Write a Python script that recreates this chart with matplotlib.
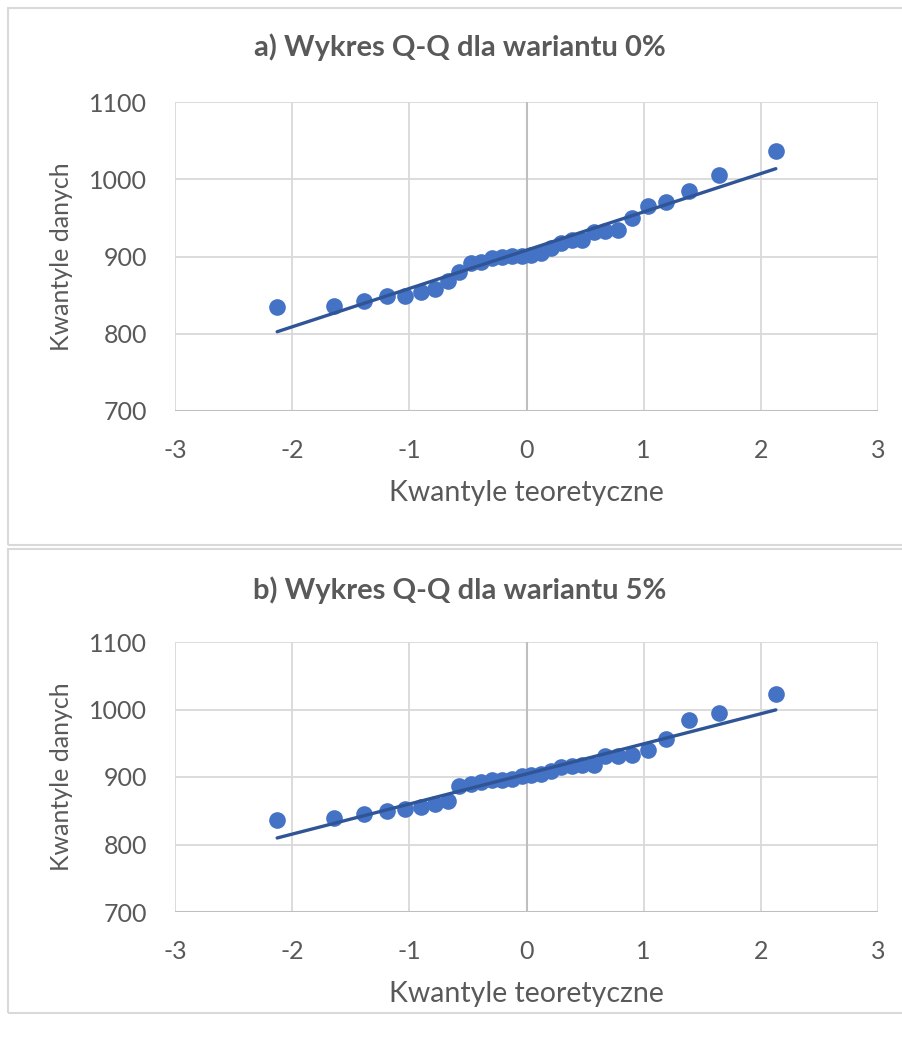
import matplotlib.pyplot as plt
import numpy as np
from matplotlib.patches import Rectangle

# theoretical normal quantiles, n = 30, p = (i - 0.5) / n
teoretyczne = [-2.128, -1.645, -1.383, -1.192, -1.036, -0.903, -0.783, -0.674,
               -0.573, -0.477, -0.385, -0.297, -0.210, -0.126, -0.042,
               0.042, 0.126, 0.210, 0.297, 0.385, 0.477, 0.573, 0.674,
               0.783, 0.903, 1.036, 1.192, 1.383, 1.645, 2.128]

# sorted data quantiles
wariant_0 = [834.5, 836, 842, 849, 849.5, 853.5, 858, 868.5, 880, 891,
             892.5, 898, 900, 900.5, 901, 902, 905, 911, 917, 921,
             922, 932, 933.5, 934.5, 950, 965, 970.5, 984.5, 1006, 1036.5]
wariant_5 = [836, 840, 845.5, 850, 853, 855, 859.5, 864.5, 886.5, 889,
             892.5, 895, 896, 896.5, 901, 903.5, 904.5, 909, 915, 916.5,
             917.5, 918, 931, 931.5, 932, 940, 956, 984, 995.5, 1022.5]

tytuly = ['a) Wykres Q-Q dla wariantu 0%', 'b) Wykres Q-Q dla wariantu 5%']
x_ticks = [-3, -2, -1, 0, 1, 2, 3]
y_ticks = [700, 800, 900, 1000, 1100]

plt.rcParams['font.family'] = ['Lato', 'DejaVu Sans']
plt.rcParams['axes.unicode_minus'] = False

W, H = 903, 1041
fig = plt.figure(figsize=(W / 100, H / 100), dpi=100)

# chart frames (Excel style), in pixel coordinates
for top, bottom in [(8, 545), (549, 1013)]:
    fig.patches.append(Rectangle((8 / W, 1 - bottom / H), 1.2, (bottom - top) / H,
                                 transform=fig.transFigure, fill=False,
                                 edgecolor='#d9d9d9', linewidth=1.5))

text_col = '#595959'
for k, (dane, tytul) in enumerate(zip([wariant_0, wariant_5], tytuly)):
    top = 102 if k == 0 else 642
    bottom = 411 if k == 0 else 912
    ax = fig.add_axes([175 / W, 1 - bottom / H, (878 - 175) / W, (bottom - top) / H])

    ax.scatter(teoretyczne, dane, s=12 ** 2, color='#4472c4', zorder=3, linewidths=0)
    a, b = np.polyfit(teoretyczne, dane, 1)
    xs = np.array([min(teoretyczne), max(teoretyczne)])
    ax.plot(xs, a * xs + b, color='#2f5597', linewidth=2.4, zorder=4,
            solid_capstyle='round')

    ax.set_xlim(-3, 3)
    ax.set_ylim(700, 1100)
    ax.set_xticks(x_ticks)
    ax.set_yticks(y_ticks)
    ax.grid(True, color='#d9d9d9', linewidth=1.3, zorder=0)
    ax.set_axisbelow(True)
    for s in ax.spines.values():
        s.set_visible(False)
    ax.axhline(700, color='#bfbfbf', linewidth=1.5, zorder=1)
    ax.axvline(0, color='#bfbfbf', linewidth=1.5, zorder=1)
    ax.tick_params(length=0, labelsize=18, labelcolor=text_col)
    ax.tick_params(axis='y', pad=20)
    ax.tick_params(axis='x', pad=20)

    ax.set_xlabel('Kwantyle teoretyczne', fontsize=20.5, color=text_col, labelpad=13)
    ax.set_ylabel('Kwantyle danych', fontsize=18, color=text_col, labelpad=12)
    # Excel centres the title on the whole chart area, not the plot area
    title_y = 47 if k == 0 else 590
    fig.text(460 / W, 1 - title_y / H, tytul, fontsize=21, fontweight='bold',
             color=text_col, ha='center', va='center')

fig.savefig('out.png', dpi=100, facecolor='white')
